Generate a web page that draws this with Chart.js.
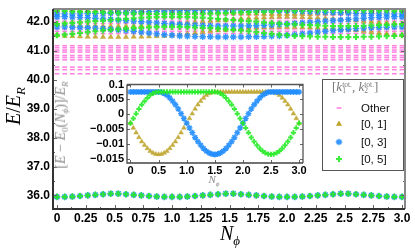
<!DOCTYPE html>
<html>
<head>
<meta charset="utf-8">
<script src="https://cdn.jsdelivr.net/npm/chart.js@4.4.1/dist/chart.umd.min.js"></script>
<style>
  body { margin: 0; background: #fff; }
  #wrap { position: relative; width: 415px; height: 251px; overflow: hidden; }
  canvas { position: absolute; }
  .ttl { position: absolute; font-family: 'Liberation Serif', 'DejaVu Serif', serif; white-space: nowrap; transform: translate(-50%, -50%); line-height: 1; }
  .ttl sub { font-size: 0.65em; vertical-align: -0.35em; }
  #legend { position: absolute; left: 322px; top: 79px; width: 80px; height: 90px; border: 1.5px solid #555; background: #fff; }
  #legend .lt { position: absolute; left: 9px; top: -1px; font-family: 'Liberation Serif', 'DejaVu Serif', serif; color: #777; font-size: 13px; white-space: nowrap; }
  #legend .ss { display: inline-block; vertical-align: middle; line-height: 0.85; font-size: 0.58em; font-style: normal; text-align: left; }
  #legend .it { position: absolute; left: 38px; font-family: 'Liberation Sans', Arial, sans-serif; font-size: 11.5px; color: #111; transform: translateY(-50%); }
  #legend canvas { position: absolute; left: 9px; }
</style>
</head>
<body>
<div id="wrap">
  <canvas id="main" width="415" height="251"></canvas>
  <canvas id="inset" width="245" height="110" style="left:70px; top:76px;"></canvas>
  <div class="ttl" style="left:15px; top:106px; font-size:20px; transform: translate(-50%,-50%) rotate(-90deg);"><i>E</i>/<i>E</i><sub><i>R</i></sub></div>
  <div class="ttl" style="left:230px; top:235px; font-size:20px;"><i>N</i><sub><i>ϕ</i></sub></div>
  <div class="ttl" style="left:62px; top:125px; font-size:14px; color:#888; transform: translate(-50%,-50%) rotate(-90deg);">[<i>E</i> − <i>E</i><sub>0</sub>(<i>N</i><sub><i>ϕ</i></sub>)]/<i>E</i><sub><i>R</i></sub></div>
  <div class="ttl" style="left:214px; top:181px; font-size:11px; color:#888;"><i>N</i><sub><i>ϕ</i></sub></div>
  <div id="legend">
    <div class="lt">[<i>k</i><span class="ss">tot.<br>1</span>, <i>k</i><span class="ss">tot.<br>2</span>]</div>
    <canvas id="lg0" width="14" height="12" style="top:22px"></canvas><div class="it" style="top:28px">Other</div>
    <canvas id="lg1" width="14" height="12" style="top:38px"></canvas><div class="it" style="top:44px">[0, 1]</div>
    <canvas id="lg2" width="14" height="12" style="top:56px"></canvas><div class="it" style="top:62px">[0, 3]</div>
    <canvas id="lg3" width="14" height="12" style="top:73px"></canvas><div class="it" style="top:79px">[0, 5]</div>
  </div>
</div>
<script>
// flux values for the main spectrum (one column per step)
const nphi = [0, 0.0667, 0.1333, 0.2, 0.2667, 0.3333, 0.4, 0.4667, 0.5333, 0.6, 0.6667, 0.7333, 0.8, 0.8667, 0.9333,
  1.0, 1.0667, 1.1333, 1.2, 1.2667, 1.3333, 1.4, 1.4667, 1.5333, 1.6, 1.6667, 1.7333, 1.8, 1.8667, 1.9333,
  2.0, 2.0667, 2.1333, 2.2, 2.2667, 2.3333, 2.4, 2.4667, 2.5333, 2.6, 2.6667, 2.7333, 2.8, 2.8667, 2.9333, 3.0];

// lowest three states (the three sectors sit on top of each other here)
const groundE = [35.95, 35.95, 35.96, 35.98, 36.00, 36.02, 36.04, 36.06, 36.06, 36.04, 36.02, 36.00, 35.98, 35.96, 35.95,
  35.95, 35.95, 35.96, 35.98, 36.00, 36.02, 36.04, 36.06, 36.06, 36.04, 36.02, 36.00, 35.98, 35.96, 35.95,
  35.95, 35.95, 35.96, 35.98, 36.00, 36.02, 36.04, 36.06, 36.06, 36.04, 36.02, 36.00, 35.98, 35.96, 35.95, 35.95];

// excited levels of the three sectors in the upper band
const olive1 = [41.54, 41.52, 41.51, 41.50, 41.49, 41.49, 41.48, 41.48, 41.48, 41.48, 41.49, 41.49, 41.50, 41.51, 41.52,
  41.54, 41.56, 41.59, 41.62, 41.65, 41.68, 41.71, 41.73, 41.75, 41.77, 41.79, 41.80, 41.81, 41.82, 41.83,
  41.83, 41.83, 41.82, 41.81, 41.80, 41.79, 41.77, 41.75, 41.73, 41.71, 41.68, 41.65, 41.62, 41.59, 41.56, 41.54];
const olive2 = [41.93, 41.92, 41.90, 41.89, 41.88, 41.87, 41.86, 41.86, 41.86, 41.86, 41.87, 41.88, 41.89, 41.90, 41.92,
  41.93, 41.95, 41.97, 41.99, 42.01, 42.03, 42.05, 42.07, 42.09, 42.11, 42.13, 42.15, 42.16, 42.17, 42.18,
  42.18, 42.18, 42.17, 42.16, 42.15, 42.13, 42.11, 42.09, 42.07, 42.05, 42.03, 42.01, 41.99, 41.97, 41.95, 41.93];
const olive3 = [42.39, 42.39, 42.40, 42.40, 42.40, 42.41, 42.41, 42.41, 42.41, 42.41, 42.41, 42.40, 42.40, 42.40, 42.39,
  42.39, 42.38, 42.37, 42.36, 42.35, 42.34, 42.33, 42.32, 42.31, 42.30, 42.29, 42.29, 42.28, 42.28, 42.28,
  42.28, 42.28, 42.28, 42.28, 42.29, 42.29, 42.30, 42.31, 42.32, 42.33, 42.34, 42.35, 42.36, 42.37, 42.38, 42.39];
const blue1 = [41.83, 41.83, 41.82, 41.81, 41.80, 41.79, 41.77, 41.75, 41.73, 41.71, 41.68, 41.65, 41.62, 41.59, 41.56,
  41.54, 41.52, 41.51, 41.50, 41.49, 41.49, 41.48, 41.48, 41.48, 41.48, 41.49, 41.49, 41.50, 41.51, 41.52,
  41.54, 41.56, 41.59, 41.62, 41.65, 41.68, 41.71, 41.73, 41.75, 41.77, 41.79, 41.80, 41.81, 41.82, 41.83, 41.83];
const blue2 = [42.18, 42.18, 42.17, 42.16, 42.15, 42.13, 42.11, 42.09, 42.07, 42.05, 42.03, 42.01, 41.99, 41.97, 41.95,
  41.93, 41.92, 41.90, 41.89, 41.88, 41.87, 41.86, 41.86, 41.86, 41.86, 41.87, 41.88, 41.89, 41.90, 41.92,
  41.93, 41.95, 41.97, 41.99, 42.01, 42.03, 42.05, 42.07, 42.09, 42.11, 42.13, 42.15, 42.16, 42.17, 42.18, 42.18];
const blue3 = [42.28, 42.28, 42.28, 42.28, 42.29, 42.29, 42.30, 42.31, 42.32, 42.33, 42.34, 42.35, 42.36, 42.37, 42.38,
  42.39, 42.39, 42.40, 42.40, 42.40, 42.41, 42.41, 42.41, 42.41, 42.41, 42.41, 42.40, 42.40, 42.40, 42.39,
  42.39, 42.38, 42.37, 42.36, 42.35, 42.34, 42.33, 42.32, 42.31, 42.30, 42.29, 42.29, 42.28, 42.28, 42.28, 42.28];
const green1 = [41.54, 41.56, 41.59, 41.62, 41.65, 41.68, 41.71, 41.73, 41.75, 41.77, 41.79, 41.80, 41.81, 41.82, 41.83,
  41.83, 41.83, 41.82, 41.81, 41.80, 41.79, 41.77, 41.75, 41.73, 41.71, 41.68, 41.65, 41.62, 41.59, 41.56,
  41.54, 41.52, 41.51, 41.50, 41.49, 41.49, 41.48, 41.48, 41.48, 41.48, 41.49, 41.49, 41.50, 41.51, 41.52, 41.54];
const green2 = [41.93, 41.95, 41.97, 41.99, 42.01, 42.03, 42.05, 42.07, 42.09, 42.11, 42.13, 42.15, 42.16, 42.17, 42.18,
  42.18, 42.18, 42.17, 42.16, 42.15, 42.13, 42.11, 42.09, 42.07, 42.05, 42.03, 42.01, 41.99, 41.97, 41.95,
  41.93, 41.92, 41.90, 41.89, 41.88, 41.87, 41.86, 41.86, 41.86, 41.86, 41.87, 41.88, 41.89, 41.90, 41.92, 41.93];
const green3 = [42.39, 42.38, 42.37, 42.36, 42.35, 42.34, 42.33, 42.32, 42.31, 42.30, 42.29, 42.29, 42.28, 42.28, 42.28,
  42.28, 42.28, 42.28, 42.28, 42.29, 42.29, 42.30, 42.31, 42.32, 42.33, 42.34, 42.35, 42.36, 42.37, 42.38,
  42.39, 42.39, 42.40, 42.40, 42.40, 42.41, 42.41, 42.41, 42.41, 42.41, 42.41, 42.40, 42.40, 42.40, 42.39, 42.39];

// levels of all other sectors (roughly flat in flux)
const otherLevels = [40.21, 40.35, 40.44, 40.69, 40.77, 40.84, 40.96, 41.03, 41.11, 41.18,
  41.60, 41.68, 41.76, 41.95, 42.03, 42.12, 42.24, 42.33, 42.43];

const xTicks = [0, 0.25, 0.5, 0.75, 1, 1.25, 1.5, 1.75, 2, 2.25, 2.5, 2.75, 3];
const xTickLabels = ['0', '0.25', '0.5', '0.75', '1.0', '1.25', '1.5', '1.75', '2.0', '2.25', '2.5', '2.75', '3.0'];
const yTicks = [36, 37, 38, 39, 40, 41, 42];
const yTickLabels = ['36.0', '37.0', '38.0', '39.0', '40.0', '41.0', '42.0'];

// inset: energy relative to E0
const insetX = [0, 0.05, 0.1, 0.15, 0.2, 0.25, 0.3, 0.35, 0.4, 0.45, 0.5, 0.55, 0.6, 0.65, 0.7, 0.75, 0.8, 0.85, 0.9, 0.95,
  1.0, 1.05, 1.1, 1.15, 1.2, 1.25, 1.3, 1.35, 1.4, 1.45, 1.5, 1.55, 1.6, 1.65, 1.7, 1.75, 1.8, 1.85, 1.9, 1.95,
  2.0, 2.05, 2.1, 2.15, 2.2, 2.25, 2.3, 2.35, 2.4, 2.45, 2.5, 2.55, 2.6, 2.65, 2.7, 2.75, 2.8, 2.85, 2.9, 2.95, 3.0];
const insetOlive = [-0.0030, -0.0046, -0.0062, -0.0078, -0.0092, -0.0104, -0.0115, -0.0124, -0.0130, -0.0134,
  -0.0135, -0.0134, -0.0130, -0.0124, -0.0115, -0.0104, -0.0092, -0.0078, -0.0062, -0.0046,
  -0.0030, -0.0014, 0.0002, 0.0018, 0.0032, 0.0044, 0.0055, 0.0064, 0.0070, 0.0074,
  0.0075, 0.0075, 0.0075, 0.0075, 0.0075, 0.0075, 0.0075, 0.0075, 0.0075, 0.0075,
  0.0075, 0.0075, 0.0075, 0.0075, 0.0075, 0.0075, 0.0075, 0.0075, 0.0075, 0.0075,
  0.0075, 0.0074, 0.0070, 0.0064, 0.0055, 0.0044, 0.0032, 0.0018, 0.0002, -0.0014, -0.0030];
const insetBlue = [0.0075, 0.0075, 0.0075, 0.0075, 0.0075, 0.0075, 0.0075, 0.0075, 0.0075, 0.0075, 0.0075,
  0.0074, 0.0070, 0.0064, 0.0055, 0.0044, 0.0032, 0.0018, 0.0002, -0.0014,
  -0.0030, -0.0046, -0.0062, -0.0078, -0.0092, -0.0104, -0.0115, -0.0124, -0.0130, -0.0134,
  -0.0135, -0.0134, -0.0130, -0.0124, -0.0115, -0.0104, -0.0092, -0.0078, -0.0062, -0.0046,
  -0.0030, -0.0014, 0.0002, 0.0018, 0.0032, 0.0044, 0.0055, 0.0064, 0.0070, 0.0074,
  0.0075, 0.0075, 0.0075, 0.0075, 0.0075, 0.0075, 0.0075, 0.0075, 0.0075, 0.0075, 0.0075];
const insetGreen = [-0.0030, -0.0014, 0.0002, 0.0018, 0.0032, 0.0044, 0.0055, 0.0064, 0.0070, 0.0074,
  0.0075, 0.0075, 0.0075, 0.0075, 0.0075, 0.0075, 0.0075, 0.0075, 0.0075, 0.0075, 0.0075,
  0.0075, 0.0075, 0.0075, 0.0075, 0.0075, 0.0075, 0.0075, 0.0075, 0.0075, 0.0075,
  0.0074, 0.0070, 0.0064, 0.0055, 0.0044, 0.0032, 0.0018, 0.0002, -0.0014,
  -0.0030, -0.0046, -0.0062, -0.0078, -0.0092, -0.0104, -0.0115, -0.0124, -0.0130, -0.0134,
  -0.0135, -0.0134, -0.0130, -0.0124, -0.0115, -0.0104, -0.0092, -0.0078, -0.0062, -0.0046, -0.0030];
const insetXTicks = [0, 0.5, 1, 1.5, 2, 2.5, 3];
const insetXLabels = ['0', '0.5', '1.0', '1.5', '2.0', '2.5', '3.0'];
const insetYTicks = [-0.015, -0.01, -0.005, 0, 0.005, 0.01];
const insetYLabels = ['\u22120.015', '\u22120.01', '\u22120.005', '0', '0.005', '0.1'];

// colours / marker styles
const cOther = 'rgba(255, 30, 200, 0.55)';
const cOlive = 'rgba(190, 165, 45, 0.9)';
const cBlue = 'rgba(30, 140, 255, 0.9)';
const cGreen = 'rgba(40, 235, 40, 0.9)';
const sOther = { pointStyle: 'line', pointRadius: 2.4, borderWidth: 1.6, borderColor: cOther, backgroundColor: cOther };
const sOlive = { pointStyle: 'triangle', pointRadius: 3, borderWidth: 0.5, borderColor: cOlive, backgroundColor: cOlive };
const sBlue = { pointStyle: 'star', pointRadius: 3.3, borderWidth: 1.4, borderColor: cBlue, backgroundColor: cBlue };
const sGreen = { pointStyle: 'cross', pointRadius: 3, borderWidth: 2.2, borderColor: cGreen, backgroundColor: cGreen };

function pts(xs, ys) { return xs.map((x, i) => ({ x: x, y: ys[i] })); }
function rows(xs, levels) {
  const out = [];
  levels.forEach(e => xs.forEach(x => out.push({ x: x, y: e })));
  return out;
}

// frame + inward tick marks, like the original plotting tool
const framePlugin = {
  id: 'frame',
  beforeDraw(chart, args, o) {
    if (!o.fill) return;
    const a = chart.chartArea, ctx = chart.ctx;
    ctx.save(); ctx.fillStyle = '#fff'; ctx.fillRect(a.left, a.top, a.width, a.height); ctx.restore();
  },
  afterDraw(chart, args, o) {
    const a = chart.chartArea, ctx = chart.ctx, sx = chart.scales.x, sy = chart.scales.y;
    ctx.save();
    ctx.strokeStyle = o.tickColor; ctx.lineWidth = 1;
    ctx.beginPath();
    o.xMajor.forEach(v => { const p = Math.round(sx.getPixelForValue(v)) + 0.5;
      ctx.moveTo(p, a.bottom); ctx.lineTo(p, a.bottom - o.len); ctx.moveTo(p, a.top); ctx.lineTo(p, a.top + o.len); });
    o.xMinor.forEach(v => { const p = Math.round(sx.getPixelForValue(v)) + 0.5;
      ctx.moveTo(p, a.bottom); ctx.lineTo(p, a.bottom - o.len / 2); ctx.moveTo(p, a.top); ctx.lineTo(p, a.top + o.len / 2); });
    o.yMajor.forEach(v => { const p = Math.round(sy.getPixelForValue(v)) + 0.5;
      ctx.moveTo(a.left, p); ctx.lineTo(a.left + o.len, p); ctx.moveTo(a.right, p); ctx.lineTo(a.right - o.len, p); });
    o.yMinor.forEach(v => { const p = Math.round(sy.getPixelForValue(v)) + 0.5;
      ctx.moveTo(a.left, p); ctx.lineTo(a.left + o.len / 2, p); ctx.moveTo(a.right, p); ctx.lineTo(a.right - o.len / 2, p); });
    ctx.stroke();
    ctx.lineWidth = o.lw;
    ctx.strokeStyle = o.light;
    ctx.beginPath(); ctx.moveTo(a.left, a.top); ctx.lineTo(a.right, a.top); ctx.lineTo(a.right, a.bottom); ctx.stroke();
    ctx.strokeStyle = o.dark;
    ctx.beginPath(); ctx.moveTo(a.left, a.top); ctx.lineTo(a.left, a.bottom); ctx.lineTo(a.right, a.bottom); ctx.stroke();
    ctx.restore();
  }
};

const tickFont = { family: "'Liberation Sans', Arial, sans-serif", size: 12, weight: 'bold', lineHeight: 1 };
const insetFont = { family: "'Liberation Sans', Arial, sans-serif", size: 11, weight: 'bold', lineHeight: 1 };

const mainChart = new Chart(document.getElementById('main'), {
  type: 'scatter',
  data: {
    datasets: [
      Object.assign({ label: '[0, 5]', data: pts(nphi, groundE).concat(pts(nphi, green1), pts(nphi, green2), pts(nphi, green3)) }, sGreen),
      Object.assign({ label: '[0, 3]', data: pts(nphi, groundE).concat(pts(nphi, blue1), pts(nphi, blue2), pts(nphi, blue3)) }, sBlue),
      Object.assign({ label: '[0, 1]', data: pts(nphi, groundE).concat(pts(nphi, olive1), pts(nphi, olive2), pts(nphi, olive3)) }, sOlive),
      Object.assign({ label: 'Other', data: rows(nphi, otherLevels) }, sOther)
    ]
  },
  options: {
    responsive: false,
    animation: false,
    events: [],
    layout: { padding: { left: 0, right: 10, top: 5, bottom: 0 } },
    plugins: {
      legend: { display: false },
      tooltip: { enabled: false },
      frame: { fill: false, len: 4, tickColor: '#666', lw: 2, light: '#888', dark: '#333',
        xMajor: xTicks, xMinor: [0.125, 0.375, 0.625, 0.875, 1.125, 1.375, 1.625, 1.875, 2.125, 2.375, 2.625, 2.875],
        yMajor: yTicks, yMinor: [36.5, 37.5, 38.5, 39.5, 40.5, 41.5] }
    },
    scales: {
      x: {
        type: 'linear', min: -0.035, max: 3.026,
        afterBuildTicks: s => { s.ticks = xTicks.map(v => ({ value: v })); },
        afterFit: s => { s.height = 42; },
        ticks: { callback: (v, i) => xTickLabels[i], maxRotation: 0, autoSkip: false, padding: 4, color: '#000', font: tickFont },
        grid: { display: false, drawTicks: false },
        border: { display: false }
      },
      y: {
        type: 'linear', min: 35.53, max: 42.45,
        afterBuildTicks: s => { s.ticks = yTicks.map(v => ({ value: v })); },
        afterFit: s => { s.width = 53; },
        ticks: { callback: (v, i) => yTickLabels[i], autoSkip: false, padding: 3, color: '#000', font: tickFont },
        grid: { display: false, drawTicks: false },
        border: { display: false }
      }
    }
  },
  plugins: [framePlugin]
});

const insetChart = new Chart(document.getElementById('inset'), {
  type: 'scatter',
  data: {
    datasets: [
      Object.assign({ label: '[0, 5]', data: pts(insetX, insetGreen) }, sGreen, { pointRadius: 2.6, borderWidth: 2 }),
      Object.assign({ label: '[0, 3]', data: pts(insetX, insetBlue) }, sBlue, { pointRadius: 3 }),
      Object.assign({ label: '[0, 1]', data: pts(insetX, insetOlive) }, sOlive, { pointRadius: 2.7 })
    ]
  },
  options: {
    responsive: false,
    animation: false,
    events: [],
    layout: { padding: { left: 0, right: 12, top: 6, bottom: 0 } },
    plugins: {
      legend: { display: false },
      tooltip: { enabled: false },
      frame: { fill: true, len: 3, tickColor: '#666', lw: 1.3, light: '#555', dark: '#444',
        xMajor: insetXTicks, xMinor: [], yMajor: insetYTicks, yMinor: [] }
    },
    scales: {
      x: {
        type: 'linear', min: -0.062, max: 3.07,
        afterBuildTicks: s => { s.ticks = insetXTicks.map(v => ({ value: v })); },
        afterFit: s => { s.height = 23; },
        ticks: { callback: (v, i) => insetXLabels[i], maxRotation: 0, autoSkip: false, padding: 2, color: '#000', font: insetFont },
        grid: { display: false, drawTicks: false },
        border: { display: false }
      },
      y: {
        type: 'linear', min: -0.0164, max: 0.01,
        afterBuildTicks: s => { s.ticks = insetYTicks.map(v => ({ value: v })); },
        afterFit: s => { s.width = 57; },
        ticks: { callback: (v, i) => insetYLabels[i], autoSkip: false, padding: 3, color: '#000', font: insetFont },
        grid: { display: false, drawTicks: false },
        border: { display: false }
      }
    }
  },
  plugins: [framePlugin]
});

// legend markers drawn with the library's own point renderer
const legendStyles = [sOther, sOlive, sBlue, sGreen];
legendStyles.forEach((s, i) => {
  const c = document.getElementById('lg' + i).getContext('2d');
  c.fillStyle = s.backgroundColor; c.strokeStyle = s.borderColor; c.lineWidth = s.borderWidth;
  const opts = { pointStyle: s.pointStyle, radius: s.pointRadius, borderWidth: s.borderWidth, rotation: 0 };
  if (Chart.helpers && Chart.helpers.drawPoint) {
    Chart.helpers.drawPoint(c, opts, 7, 6);
    if (s.pointStyle === 'triangle') c.fill();
  }
});
</script>
</body>
</html>
